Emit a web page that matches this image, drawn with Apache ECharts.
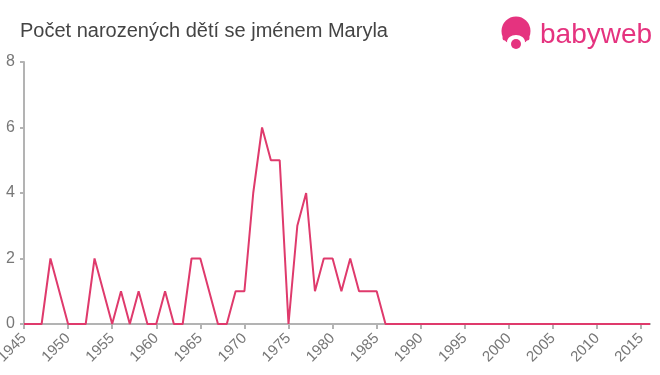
<!DOCTYPE html>
<html><head><meta charset="utf-8">
<script src="https://cdn.jsdelivr.net/npm/echarts@6/dist/echarts.min.js"></script>
<style>html,body{margin:0;padding:0;background:#fff}#c{width:660px;height:375px}</style>
</head><body><div id="c"></div>
<script>
const years = [1945,1946,1947,1948,1949,1950,1951,1952,1953,1954,1955,1956,1957,1958,1959,1960,1961,1962,1963,1964,1965,1966,1967,1968,1969,1970,1971,1972,1973,1974,1975,1976,1977,1978,1979,1980,1981,1982,1983,1984,1985,1986,1987,1988,1989,1990,1991,1992,1993,1994,1995,1996,1997,1998,1999,2000,2001,2002,2003,2004,2005,2006,2007,2008,2009,2010,2011,2012,2013,2014,2015,2016];
const counts = [0,0,0,2,1,0,0,0,2,1,0,1,0,1,0,0,1,0,0,2,2,1,0,0,1,1,4,6,5,5,0,3,4,1,2,2,1,2,1,1,1,0,0,0,0,0,0,0,0,0,0,0,0,0,0,0,0,0,0,0,0,0,0,0,0,0,0,0,0,0,0,0];
const yTicks = [0,2,4,6,8];
const titleText = 'Počet narozených dětí se jménem Maryla';

const chart = echarts.init(document.getElementById('c'), null, {renderer:'canvas'});
const font = 'Liberation Sans, Arial, Helvetica, sans-serif';
chart.setOption({
  animation:false,
  title:{text:titleText,left:20,top:21,padding:0,textStyle:{fontFamily:font,fontSize:20,fontWeight:'normal',color:'#444'}},
  grid:{left:24,right:10,top:62,bottom:51,containLabel:false,outerBoundsMode:'none'},
  xAxis:{type:'category',data:years,boundaryGap:false,
    axisLine:{lineStyle:{color:'#b3b3b3',width:2}},
    axisTick:{interval:4,length:5,lineStyle:{color:'#b3b3b3',width:2}},
    axisLabel:{interval:4,rotate:45,color:'#777',fontFamily:font,fontSize:15,margin:12},
    splitLine:{show:false}},
  yAxis:{type:'value',min:yTicks[0],max:yTicks[yTicks.length-1],interval:2,
    axisLine:{show:true,lineStyle:{color:'#b3b3b3',width:2}},
    axisTick:{show:true,length:4,lineStyle:{color:'#b3b3b3',width:2}},
    axisLabel:{color:'#777',fontFamily:font,fontSize:16,margin:9},
    splitLine:{show:false}},
  series:[{type:'line',data:counts,symbol:'none',lineStyle:{color:'#df3a6c',width:2}}],
  graphic:[
    {type:'circle',shape:{cx:516,cy:31,r:14.5},style:{fill:'#e5337f'}},
    {type:'ellipse',shape:{cx:516,cy:42,rx:9,ry:7},style:{fill:'#fff'}},
    {type:'circle',shape:{cx:516,cy:44,r:5},style:{fill:'#e5337f'}},
    {type:'circle',shape:{cx:505,cy:38,r:2.5},style:{fill:'#e5337f'}},
    {type:'circle',shape:{cx:527,cy:38,r:2.5},style:{fill:'#e5337f'}},
    {type:'text',left:540,top:21,style:{text:'babyweb',fill:'#e5337f',font:'28px '+font}}
  ]
});
</script></body></html>
